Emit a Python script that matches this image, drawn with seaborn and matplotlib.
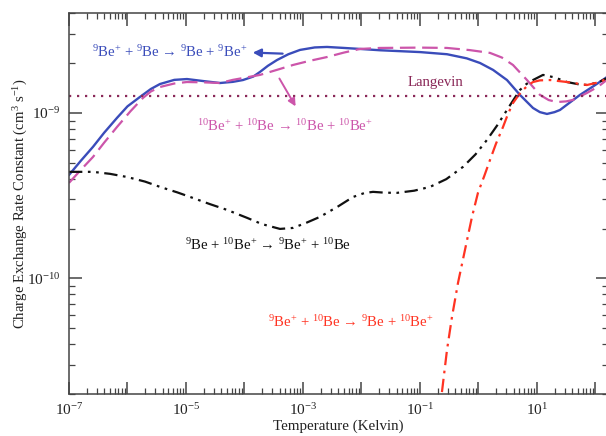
import numpy as np
import pandas as pd
import matplotlib
matplotlib.use("Agg")
import matplotlib.pyplot as plt
import matplotlib.ticker as mticker
import seaborn as sns

# ---- data (log10 T [K], log10 k [cm^3 s^-1]) ----
be9_logT = [-7.0, -6.8, -6.59, -6.4, -6.18, -6.0, -5.786, -5.6, -5.444, -5.2, -4.983, -4.709,
            -4.419, -4.2, -4.026, -3.85, -3.735, -3.6, -3.444, -3.25, -3.051, -2.8, -2.59,
            -2.3, -2.026, -1.684, -1.0, -0.538, -0.2, 0.026, 0.25, 0.487, 0.709, 0.932, 1.05,
            1.171, 1.3, 1.393, 1.55, 1.735, 2.0, 2.25]
be9_logk = [-9.375, -9.29, -9.205, -9.12, -9.030, -8.96, -8.903, -8.855, -8.825, -8.80, -8.795,
            -8.807, -8.819, -8.812, -8.801, -8.78, -8.752, -8.715, -8.680, -8.645, -8.619,
            -8.604, -8.601, -8.607, -8.613, -8.621, -8.632, -8.645, -8.67, -8.698, -8.74,
            -8.801, -8.891, -8.970, -8.995, -9.006, -8.995, -8.982, -8.94, -8.891, -8.83, -8.77]

be10_logT = [-7.0, -6.8, -6.59, -6.4, -6.18, -5.95, -5.735, -5.6, -5.444, -5.2, -4.983, -4.7,
             -4.419, -4.2, -4.026, -3.735, -3.45, -3.171, -2.9, -2.59, -2.3, -2.026, -1.684,
             -1.0, -0.538, -0.15, 0.197, 0.4, 0.59, 0.829, 1.051, 1.2, 1.342, 1.5, 1.615,
             1.855, 2.05, 2.25]
be10_logk = [-9.423, -9.345, -9.266, -9.18, -9.085, -8.99, -8.909, -8.87, -8.843, -8.822,
             -8.813, -8.815, -8.819, -8.80, -8.789, -8.770, -8.74, -8.710, -8.686, -8.662,
             -8.635, -8.613, -8.607, -8.605, -8.607, -8.62, -8.637, -8.665, -8.710, -8.801,
             -8.891, -8.922, -8.934, -8.93, -8.921, -8.879, -8.84, -8.785]

mix1_logT = [-7.0, -6.59, -6.3, -6.009, -5.7, -5.444, -5.15, -4.88, -4.6, -4.299, -3.957, -3.7,
             -3.393, -3.171, -2.95, -2.709, -2.4, -2.145, -1.95, -1.803, -1.6, -1.393, -1.1,
             -0.829, -0.55, -0.265, -0.05, 0.145, 0.32, 0.487, 0.6, 0.709, 0.82, 0.932, 1.103,
             1.3, 1.513, 1.7, 1.855, 2.05, 2.25]
mix1_logk = [-9.356, -9.356, -9.368, -9.387, -9.415, -9.447, -9.48, -9.514, -9.55, -9.586,
             -9.634, -9.672, -9.701, -9.695, -9.665, -9.628, -9.565, -9.508, -9.484, -9.477,
             -9.482, -9.483, -9.47, -9.447, -9.40, -9.326, -9.25, -9.163, -9.075, -8.982,
             -8.92, -8.861, -8.825, -8.801, -8.770, -8.785, -8.813, -8.826, -8.831, -8.815,
             -8.78]

mix2_logT = [-0.68, -0.538, -0.453, -0.35, -0.231, -0.111, -0.009, 0.1, 0.197, 0.3, 0.419, 0.5,
             0.59, 0.68, 0.761, 0.85, 0.932, 1.05, 1.222, 1.513, 1.855, 2.05, 2.25]
mix2_logk = [-10.85, -10.432, -10.233, -10.027, -9.828, -9.628, -9.483, -9.38, -9.284, -9.185,
             -9.085, -9.01, -8.940, -8.895, -8.861, -8.832, -8.813, -8.803, -8.801, -8.813,
             -8.831, -8.815, -8.785]

langevin_k = 1.27e-9

labels = {
    "be9": r"$^{9}$Be$^{+}$ + $^{9}$Be → $^{9}$Be + $^{9}$Be$^{+}$",
    "be10": r"$^{10}$Be$^{+}$ + $^{10}$Be → $^{10}$Be + $^{10}$Be$^{+}$",
    "mix1": r"$^{9}$Be + $^{10}$Be$^{+}$ → $^{9}$Be$^{+}$ + $^{10}$Be",
    "mix2": r"$^{9}$Be$^{+}$ + $^{10}$Be → $^{9}$Be + $^{10}$Be$^{+}$",
}

# ---- style ----
sns.set_style("ticks")
plt.rcParams["font.family"] = ["Liberation Serif", "DejaVu Serif"]
plt.rcParams["mathtext.fontset"] = "custom"
plt.rcParams["mathtext.rm"] = "Liberation Serif"
plt.rcParams["mathtext.it"] = "Liberation Serif:italic"
plt.rcParams["mathtext.bf"] = "Liberation Serif:bold"

BLUE = "#3a4cba"
PINK = "#cc55aa"
BLACK = "#111111"
RED = "#ff3322"
LANG = "#8a2858"

fig = plt.figure(figsize=(6.06, 4.36), dpi=100)
ax = fig.add_axes([69 / 606, 42 / 436, (608 - 69) / 606, (394 - 13) / 436])

def frame(lt, lk):
    return pd.DataFrame({"T": 10 ** np.array(lt), "k": 10 ** np.array(lk)})

sns.lineplot(data=frame(be9_logT, be9_logk), x="T", y="k", ax=ax, color=BLUE,
             lw=1.7, sort=False)
sns.lineplot(data=frame(be10_logT, be10_logk), x="T", y="k", ax=ax, color=PINK,
             lw=1.6, sort=False, linestyle=(0, (7, 3)))
sns.lineplot(data=frame(mix1_logT, mix1_logk), x="T", y="k", ax=ax, color=BLACK,
             lw=1.6, sort=False, linestyle=(0, (6, 2.5, 1.2, 2.5, 1.2, 2.5)))
sns.lineplot(data=frame(mix2_logT, mix2_logk), x="T", y="k", ax=ax, color=RED,
             lw=1.6, sort=False, linestyle=(0, (6, 2.5, 1.2, 2.5)))
ax.axhline(langevin_k, color=LANG, lw=1.6, linestyle=(0, (1, 2.6)))

ax.set_xscale("log")
ax.set_yscale("log")
ax.set_xlim(1e-7, 10 ** 2.214)
ax.set_ylim(2.0e-11, 4.02e-9)

xmaj = [10.0 ** e for e in range(-7, 3)]
ax.xaxis.set_major_locator(mticker.FixedLocator(xmaj))
ax.xaxis.set_minor_locator(mticker.LogLocator(base=10, subs=np.arange(2, 10), numticks=50))
ax.xaxis.set_major_formatter(mticker.FuncFormatter(
    lambda v, p: (r"$10^{%d}$" % round(np.log10(v))) if round(np.log10(v)) % 2 != 0 else ""))
ax.xaxis.set_minor_formatter(mticker.NullFormatter())

ax.yaxis.set_major_locator(mticker.FixedLocator([1e-10, 1e-9]))
ax.yaxis.set_minor_locator(mticker.LogLocator(base=10, subs=np.arange(2, 10), numticks=50))
ax.yaxis.set_major_formatter(mticker.FuncFormatter(lambda v, p: r"$10^{%d}$" % round(np.log10(v))))
ax.yaxis.set_minor_formatter(mticker.NullFormatter())

ax.tick_params(which="both", direction="in", top=True, right=True, colors="#444444",
               labelcolor="#222222", labelsize=11)
ax.tick_params(which="major", length=9, width=1.1)
ax.tick_params(which="minor", length=4.5, width=0.9)
ax.tick_params(axis="x", pad=6)
ax.tick_params(axis="y", pad=6)
for s in ax.spines.values():
    s.set_color("#444444")
    s.set_linewidth(1.1)

ax.set_xlabel("Temperature (Kelvin)", fontsize=10.8, color="#222222", labelpad=1)
ax.set_ylabel(r"Charge Exchange Rate Constant (cm$^{3}$ s$^{-1}$)", fontsize=10.6,
              color="#222222")
ax.yaxis.set_label_coords(-0.072, 0.5)

# ---- annotations ----
fs = 10.6
ax.text(2.5e-7, 2.34e-9, labels["be9"], color=BLUE, fontsize=fs, va="center", ha="left")
ax.annotate("", xy=(1.24e-4, 2.32e-9), xytext=(5.0e-4, 2.28e-9),
            arrowprops=dict(arrowstyle="-|>", color=BLUE, lw=1.6, mutation_scale=12))
ax.text(1.54e-5, 8.3e-10, labels["be10"], color=PINK, fontsize=fs, va="center", ha="left")
ax.annotate("", xy=(7.9e-4, 1.06e-9), xytext=(3.74e-4, 1.67e-9),
            arrowprops=dict(arrowstyle="-|>", color=PINK, lw=1.4, mutation_scale=11))
ax.text(9.6e-6, 1.59e-10, labels["mix1"], color=BLACK, fontsize=fs, va="center", ha="left")
ax.text(2.5e-4, 5.46e-11, labels["mix2"], color=RED, fontsize=fs, va="center", ha="left")
ax.text(0.0624, 1.52e-9, "Langevin", color=LANG, fontsize=fs, va="center", ha="left")

fig.savefig("out.png", dpi=100)
